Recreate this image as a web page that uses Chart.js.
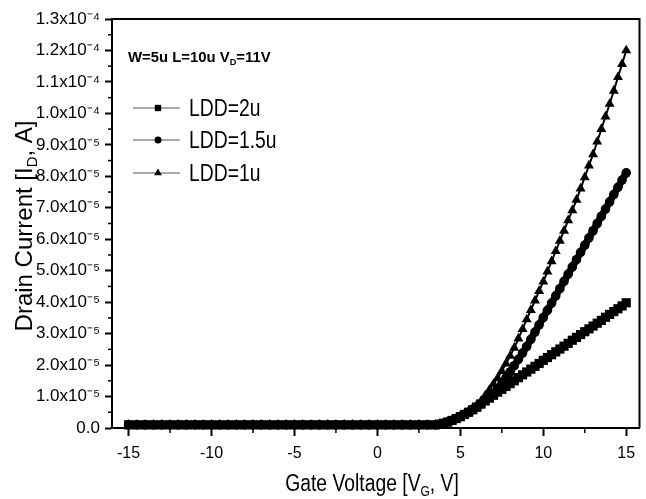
<!DOCTYPE html>
<html><head><meta charset="utf-8">
<script src="https://cdn.jsdelivr.net/npm/chart.js@4.4.1/dist/chart.umd.min.js"></script>
<style>html,body{margin:0;padding:0;background:#fff}#wrap{width:646px;height:499px;position:relative}</style>
</head><body><div id="wrap"><canvas id="c"></canvas></div>
<script>
// ---------------- data (drain current in units of 1e-5 A) ----------------
const gateVoltage = [
  -15,-14.5,-14,-13.5,-13,-12.5,-12,-11.5,-11,-10.5,-10,-9.5,-9,-8.5,-8,-7.5,-7,-6.5,-6,-5.5,
  -5,-4.5,-4,-3.5,-3,-2.5,-2,-1.5,-1,-0.5,0,0.5,1,1.5,2,2.5,3,3.5,
  3.75,4,4.25,4.5,4.75,5,5.25,5.5,5.75,6,6.25,6.5,6.75,7,7.25,7.5,7.75,8,8.25,8.5,8.75,9,
  9.25,9.5,9.75,10,10.25,10.5,10.75,11,11.25,11.5,11.75,12,12.25,12.5,12.75,13,13.25,13.5,13.75,14,
  14.25,14.5,14.75,15
];
const currentLDD2u = [
  0.1,0.1,0.1,0.1,0.1,0.1,0.1,0.1,0.1,0.1,0.1,0.1,0.1,0.1,0.1,0.1,0.1,0.1,0.1,0.1,
  0.1,0.1,0.1,0.1,0.1,0.1,0.1,0.1,0.1,0.1,0.1,0.1,0.1,0.1,0.1,0.1,0.1,0.1,
  0.12,0.15,0.19,0.24,0.3,0.36,0.43,0.5,0.58,0.66,0.76,0.86,0.95,1.04,1.14,1.23,1.32,1.41,1.5,1.6,
  1.69,1.78,1.87,1.96,2.05,2.15,2.24,2.33,2.42,2.51,2.6,2.69,2.79,2.88,2.97,3.06,3.15,3.24,3.33,3.42,
  3.52,3.61,3.7,3.79,3.88,3.98
];
const currentLDD15u = [
  0.1,0.1,0.1,0.1,0.1,0.1,0.1,0.1,0.1,0.1,0.1,0.1,0.1,0.1,0.1,0.1,0.1,0.1,0.1,0.1,
  0.1,0.1,0.1,0.1,0.1,0.1,0.1,0.1,0.1,0.1,0.1,0.1,0.1,0.1,0.1,0.1,0.1,0.1,
  0.12,0.15,0.19,0.24,0.3,0.36,0.43,0.5,0.58,0.67,0.77,0.88,0.99,1.11,1.25,1.41,1.59,1.78,1.98,2.18,
  2.38,2.59,2.82,3.05,3.28,3.51,3.74,3.97,4.2,4.43,4.66,4.89,5.12,5.35,5.58,5.81,6.04,6.27,6.5,6.73,
  6.96,7.19,7.42,7.65,7.88,8.11
];
const currentLDD1u = [
  0.1,0.1,0.1,0.1,0.1,0.1,0.1,0.1,0.1,0.1,0.1,0.1,0.1,0.1,0.1,0.1,0.1,0.1,0.1,0.1,
  0.1,0.1,0.1,0.1,0.1,0.1,0.1,0.1,0.1,0.1,0.1,0.1,0.1,0.1,0.1,0.1,0.1,0.1,
  0.12,0.15,0.19,0.24,0.3,0.37,0.45,0.54,0.64,0.74,0.86,1.03,1.21,1.4,1.59,1.81,2.05,2.29,2.55,2.84,
  3.14,3.45,3.75,4.05,4.35,4.65,4.97,5.3,5.62,5.95,6.27,6.6,6.92,7.25,7.61,7.97,8.34,8.7,9.1,9.5,
  9.9,10.3,10.72,11.15,11.57,12.0
];
const seriesNames = ['LDD=2u', 'LDD=1.5u', 'LDD=1u'];
const xTickValues = [-15, -10, -5, 0, 5, 10, 15];
const xTickLabels = ['-15', '-10', '-5', '0', '5', '10', '15'];
const xMinorTicks = [-12.5, -7.5, -2.5, 2.5, 7.5, 12.5];
const yTickValues = [0,1,2,3,4,5,6,7,8,9,10,11,12,13];
const yTickLabels = ['0.0','1.0x10\u207B\u2075','2.0x10\u207B\u2075','3.0x10\u207B\u2075','4.0x10\u207B\u2075',
  '5.0x10\u207B\u2075','6.0x10\u207B\u2075','7.0x10\u207B\u2075','8.0x10\u207B\u2075','9.0x10\u207B\u2075',
  '1.0x10\u207B\u2074','1.1x10\u207B\u2074','1.2x10\u207B\u2074','1.3x10\u207B\u2074'];
const yMinorTicks = [0.5,1.5,2.5,3.5,4.5,5.5,6.5,7.5,8.5,9.5,10.5,11.5,12.5];
const xTitleParts = ['Gate Voltage [V', 'G', ', V]'];
const yTitleParts = ['Drain Current [I', 'D', ', A]'];
const noteParts = ['W=5u L=10u V', 'D', '=11V'];

// ---------------- styles ----------------
const REGULAR = "'Liberation Sans', Arial, sans-serif";
const pointStyles = ['rect', 'circle', 'triangle'];
const pointRadii = [6.5, 4.8, 5.8];
const lineWidths = [7, 7, 2];

function toXY(ys) { return gateVoltage.map((x, i) => ({ x: x, y: ys[i] })); }

// draws text with a subscript middle part; hs = horizontal squeeze factor
function drawParts(ctx, parts, x, y, align, size, weight, hs) {
  const specs = parts.map((t, i) => ({ t, sub: i === 1, size: i === 1 ? size * 0.62 : size }));
  let total = 0;
  specs.forEach(p => { ctx.font = `${weight} ${p.size}px ${REGULAR}`; p.w = ctx.measureText(p.t).width; total += p.w; });
  ctx.save();
  ctx.translate(align === 'center' ? x - total * hs / 2 : x, y);
  ctx.scale(hs, 1);
  ctx.textAlign = 'left'; ctx.textBaseline = 'alphabetic';
  let cx = 0;
  specs.forEach(p => {
    ctx.font = `${weight} ${p.size}px ${REGULAR}`;
    ctx.fillText(p.t, cx, p.sub ? size * 0.22 : 0);
    cx += p.w;
  });
  ctx.restore();
}

function drawMarker(ctx, style, r, x, y) {
  ctx.beginPath();
  if (style === 'rect') { const s = r * Math.SQRT1_2; ctx.rect(x - s, y - s, 2 * s, 2 * s); }
  else if (style === 'circle') { ctx.arc(x, y, r, 0, Math.PI * 2); }
  else { ctx.moveTo(x, y - r); ctx.lineTo(x + r * 0.866, y + r * 0.5); ctx.lineTo(x - r * 0.866, y + r * 0.5); ctx.closePath(); }
  ctx.fill();
}

const decorPlugin = {
  id: 'decor',
  afterDraw(chart) {
    const ctx = chart.ctx, a = chart.chartArea;
    const xs = chart.scales.x, ys = chart.scales.y;
    ctx.save();
    ctx.strokeStyle = '#000'; ctx.fillStyle = '#000';
    ctx.lineWidth = 2;
    ctx.beginPath(); ctx.moveTo(a.left, a.top); ctx.lineTo(a.right, a.top); ctx.lineTo(a.right, a.bottom); ctx.stroke();
    ctx.lineWidth = 1.5;
    xMinorTicks.forEach(v => { const px = xs.getPixelForValue(v); ctx.beginPath(); ctx.moveTo(px, a.bottom); ctx.lineTo(px, a.bottom + 5); ctx.stroke(); });
    yMinorTicks.forEach(v => { const py = ys.getPixelForValue(v); ctx.beginPath(); ctx.moveTo(a.left, py); ctx.lineTo(a.left - 4, py); ctx.stroke(); });
    // annotation
    drawParts(ctx, noteParts, 128, 62, 'left', 15.5, 'bold', 0.96);
    // legend
    const legY = [108, 140, 173];
    chart.data.datasets.forEach((ds, i) => {
      const y = legY[i];
      ctx.strokeStyle = '#555'; ctx.lineWidth = 1;
      ctx.beginPath(); ctx.moveTo(133, y); ctx.lineTo(180, y); ctx.stroke();
      ctx.fillStyle = '#000';
      drawMarker(ctx, pointStyles[i], i === 0 ? 4.5 : (i === 1 ? 3.5 : 4.5), 158, y);
      ctx.save();
      ctx.translate(189, y + 8); ctx.scale(0.84, 1);
      ctx.font = `23px ${REGULAR}`; ctx.textAlign = 'left'; ctx.textBaseline = 'alphabetic';
      ctx.fillText(ds.label, 0, 0);
      ctx.restore();
    });
    // axis titles
    ctx.fillStyle = '#000';
    drawParts(ctx, xTitleParts, 372, 491, 'center', 23, 'normal', 0.84);
    ctx.translate(32, 226); ctx.rotate(-Math.PI / 2);
    drawParts(ctx, yTitleParts, 0, 0, 'center', 24, 'normal', 1);
    ctx.restore();
  }
};

function makeDataset(label, ys, i) {
  return {
    label: label, data: toXY(ys),
    borderColor: '#000', backgroundColor: '#000', borderWidth: lineWidths[i],
    pointStyle: pointStyles[i], pointRadius: pointRadii[i], pointBorderWidth: 0,
    pointBackgroundColor: '#000', tension: 0, clip: false
  };
}

new Chart(document.getElementById('c'), {
  type: 'line',
  data: { datasets: [
    makeDataset(seriesNames[0], currentLDD2u, 0),
    makeDataset(seriesNames[1], currentLDD15u, 1),
    makeDataset(seriesNames[2], currentLDD1u, 2)
  ] },
  options: {
    responsive: true, maintainAspectRatio: false, animation: false,
    layout: { padding: { top: 19, right: 2, left: 0, bottom: 0 } },
    plugins: { legend: { display: false }, tooltip: { enabled: false } },
    scales: {
      x: {
        type: 'linear', min: -16, max: 15.8,
        afterBuildTicks: s => { s.ticks = xTickValues.map(v => ({ value: v })); },
        afterFit: s => { s.height = 71; },
        ticks: { callback: (v, i) => xTickLabels[i], color: '#000', padding: 8, maxRotation: 0,
                 font: { family: REGULAR, size: 16 } },
        grid: { drawOnChartArea: false, drawTicks: true, tickLength: 8, tickWidth: 2, tickColor: '#000' },
        border: { display: true, color: '#000', width: 2 }
      },
      y: {
        type: 'linear', min: 0, max: 13,
        afterBuildTicks: s => { s.ticks = yTickValues.map(v => ({ value: v })); },
        afterFit: s => { s.width = 112; },
        ticks: { callback: (v, i) => yTickLabels[i], color: '#000', padding: 5,
                 font: { family: REGULAR, size: 17 } },
        grid: { drawOnChartArea: false, drawTicks: true, tickLength: 7, tickWidth: 2, tickColor: '#000' },
        border: { display: true, color: '#000', width: 2 }
      }
    }
  },
  plugins: [decorPlugin]
});
</script>
</body></html>
